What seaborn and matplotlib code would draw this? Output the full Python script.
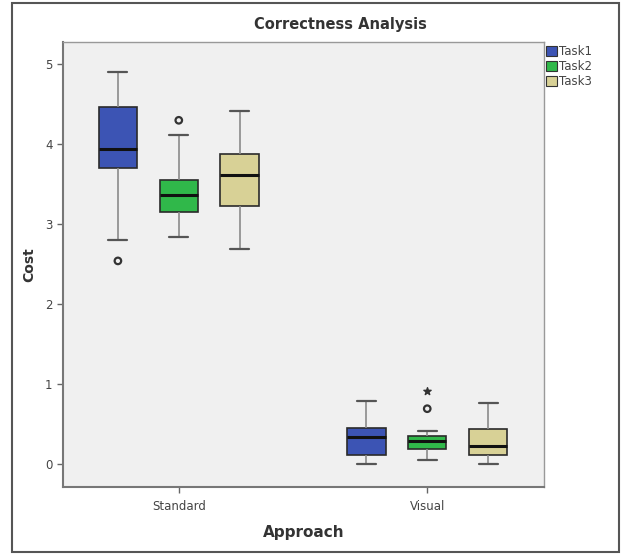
import numpy as np
import pandas as pd
import matplotlib
matplotlib.use("Agg")
import matplotlib.pyplot as plt
from matplotlib.patches import Rectangle, Patch
import seaborn as sns

# ---- data (five-number summaries) ----
approaches = ["Standard", "Visual"]
tasks = ["Task1", "Task2", "Task3"]

# order: Standard-Task1, Standard-Task2, Standard-Task3, Visual-Task1, Visual-Task2, Visual-Task3
whisker_low = [2.80, 2.84, 2.69, 0.00, 0.05, 0.00]
q1 = [3.70, 3.15, 3.23, 0.11, 0.18, 0.11]
median = [3.94, 3.36, 3.61, 0.33, 0.29, 0.22]
q3 = [4.47, 3.55, 3.88, 0.45, 0.35, 0.43]
whisker_high = [4.91, 4.11, 4.42, 0.79, 0.41, 0.76]

# outliers: (approach, task, value, marker)
outlier_approach = ["Standard", "Standard", "Visual", "Visual"]
outlier_task = ["Task1", "Task2", "Task2", "Task2"]
outlier_value = [2.54, 4.30, 0.69, 0.91]
outlier_marker = ["o", "o", "o", "*"]

colors = ["#3c54b4", "#30b84a", "#d8d196"]

# build a long table whose quartiles equal the summaries above
rows = []
k = 0
for a in approaches:
    for t in tasks:
        vals = [whisker_low[k], q1[k], q1[k], median[k], q3[k], q3[k], whisker_high[k]]
        for v in vals:
            rows.append({"Approach": a, "Task": t, "Cost": v})
        k += 1
df = pd.DataFrame(rows)

sns.set_style("white")
plt.rcParams["font.family"] = ["DejaVu Sans"]

fig = plt.figure(figsize=(6.22, 5.54), dpi=100)
ax = fig.add_axes([63 / 622, 1 - 487 / 554, (544 - 63) / 622, (487 - 42) / 554])
ax.set_facecolor("#f0f0f0")

total_width = 0.735
sns.boxplot(
    data=df, x="Approach", y="Cost", hue="Task", order=approaches, hue_order=tasks,
    palette=colors, width=total_width, gap=0.37, whis=(0, 100), showfliers=False,
    saturation=1, linewidth=1.2, ax=ax,
    boxprops=dict(edgecolor="#2a2a2a"),
    whiskerprops=dict(color="#8a8a8a", linewidth=1.2),
    capprops=dict(color="#555555", linewidth=1.6),
    medianprops=dict(color="#111111", linewidth=2.2),
    legend=False,
)

# outliers at dodged positions
each = total_width / len(tasks)
offsets = np.linspace(0, total_width - each, len(tasks))
offsets -= offsets.mean()
for a, t, v, m in zip(outlier_approach, outlier_task, outlier_value, outlier_marker):
    xpos = approaches.index(a) + offsets[tasks.index(t)]
    if m == "o":
        ax.scatter([xpos], [v], marker="o", s=22, facecolor="none",
                   edgecolor="#333333", linewidths=1.6, zorder=5)
    else:
        ax.scatter([xpos], [v], marker="*", s=30, color="#333333", zorder=5)

ax.set_xlim(-0.466, 1.47)
ax.set_ylim(-0.29, 5.28)
ax.set_yticks([0, 1, 2, 3, 4, 5])
ax.set_yticklabels(["0", "1", "2", "3", "4", "5"])
for side in ["left", "bottom"]:
    ax.spines[side].set_color("#777777")
    ax.spines[side].set_linewidth(1.5)
for side in ["top", "right"]:
    ax.spines[side].set_color("#999999")
    ax.spines[side].set_linewidth(1.0)
ax.tick_params(axis="both", which="both", length=4, width=1, color="#666666",
               labelsize=8.5, labelcolor="#444444", left=True, bottom=True)
ax.tick_params(axis="x", pad=5)
ax.set_xlabel("Approach", fontsize=11, fontweight="bold", color="#333333", labelpad=9)
ax.set_ylabel("Cost", fontsize=10, fontweight="bold", color="#333333", labelpad=6)

fig.text(340 / 622, 1 - 25 / 554, "Correctness Analysis", ha="center", va="center",
         fontsize=10.5, fontweight="bold", color="#333333")

handles = [Patch(facecolor=c, edgecolor="#333333", linewidth=0.8, label=t)
           for c, t in zip(colors, tasks)]
leg = fig.legend(handles=handles, loc="upper left", bbox_to_anchor=(544 / 622, 1 - 43 / 554),
                 frameon=False, fontsize=8.5, handlelength=0.9, handleheight=0.9,
                 handletextpad=0.15, labelspacing=0.15, borderpad=0.2, borderaxespad=0)
for txt in leg.get_texts():
    txt.set_color("#444444")

# outer frame around the chart
fig.patches.append(Rectangle((12 / 622, 1 - 552 / 554), (619 - 12) / 622, (552 - 3) / 554,
                             transform=fig.transFigure, fill=False, edgecolor="#555555",
                             linewidth=1.5))

fig.savefig("out.png", dpi=100)
